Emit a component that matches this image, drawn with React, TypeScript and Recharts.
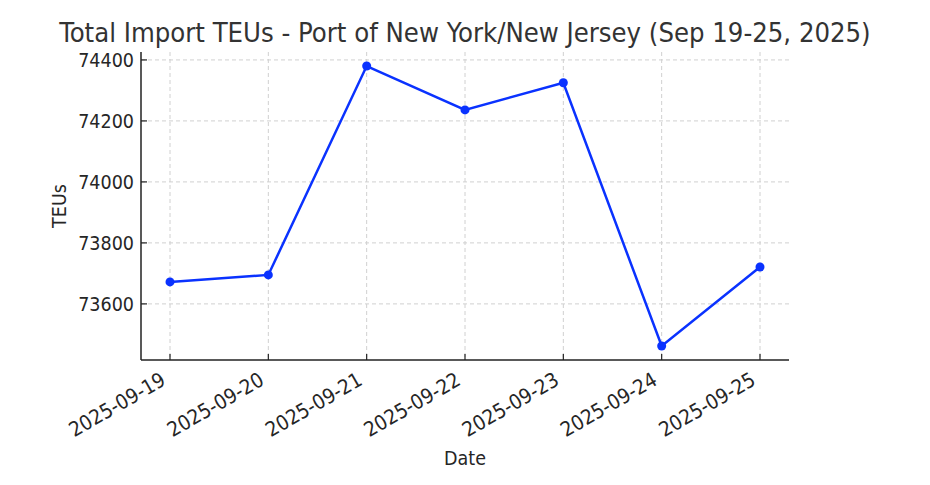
import React from "react";
import { LineChart, Line, XAxis, YAxis, CartesianGrid } from "recharts";

const dates = ["2025-09-19", "2025-09-20", "2025-09-21", "2025-09-22", "2025-09-23", "2025-09-24", "2025-09-25"];
const teus = [73672, 73695, 74380, 74236, 74325, 73462, 73721];
const yTicks = [73600, 73800, 74000, 74200, 74400];
const title = "Total Import TEUs - Port of New York/New Jersey (Sep 19-25, 2025)";

const data = dates.map((d, i) => ({ date: d, teus: teus[i] }));

const FONT = "'DejaVu Sans Condensed', 'DejaVu Sans', sans-serif";
const TEXT = "#262626";

const XTick = (props: any) => {
  const { x, y, payload } = props;
  const ax = x - 3;
  const ay = y + 24;
  return (
    <g>
      <line x1={x} y1={y} x2={x} y2={y - 6} stroke="#222" strokeWidth={1.2} />
      <text
        x={ax}
        y={ay}
        textAnchor="end"
        fontSize={20.5}
        fontFamily={FONT}
        fill={TEXT}
        transform={`rotate(-30, ${ax}, ${ay})`}
      >
        {payload.value}
      </text>
    </g>
  );
};

const YTick = (props: any) => {
  const { x, y, payload } = props;
  return (
    <g>
      <line x1={x} y1={y} x2={x + 6} y2={y} stroke="#222" strokeWidth={1.2} />
      <text x={x - 7} y={y + 7} textAnchor="end" fontSize={19.5} fontFamily={FONT} fill={TEXT}>
        {payload.value}
      </text>
    </g>
  );
};

export default function App() {
  return (
    <div style={{ position: "absolute", left: 0, top: 0, width: 930, height: 485, background: "#fff" }}>
      <div
        style={{
          position: "absolute",
          left: 0,
          top: 16,
          width: 930,
          textAlign: "center",
          fontFamily: FONT,
          fontSize: 27.2,
          color: "#333",
          lineHeight: "34px",
        }}
      >
        {title}
      </div>
      <LineChart width={930} height={485} data={data} margin={{ top: 52, right: 141, bottom: 0, left: 0 }}>
        <CartesianGrid stroke="#d0d0d0" strokeDasharray="4 3" syncWithTicks />
        <XAxis
          dataKey="date"
          padding={{ left: 29, right: 29 }}
          tickLine={false}
          tickSize={0}
          tickMargin={0}
          tick={<XTick />}
          interval={0}
          axisLine={{ stroke: "#222", strokeWidth: 1.5 }}
          height={125}
          label={{ value: "Date", position: "insideBottom", offset: 20, fontSize: 19.5, fontFamily: FONT, fill: TEXT }}
        />
        <YAxis
          type="number"
          domain={[73416, 74426]}
          ticks={yTicks}
          allowDataOverflow
          width={141}
          tickLine={false}
          tickSize={0}
          tickMargin={0}
          tick={<YTick />}
          axisLine={{ stroke: "#222", strokeWidth: 1.5 }}
          label={{ value: "TEUs", angle: -90, position: "insideLeft", offset: 59, fontSize: 19.5, fontFamily: FONT, fill: TEXT, style: { textAnchor: "middle" } }}
        />
        <Line
          type="linear"
          dataKey="teus"
          stroke="#0a32ff"
          strokeWidth={2.5}
          dot={{ r: 4.5, fill: "#0a32ff", stroke: "#0a32ff", strokeWidth: 0 }}
          activeDot={false}
          isAnimationActive={false}
        />
      </LineChart>
    </div>
  );
}
